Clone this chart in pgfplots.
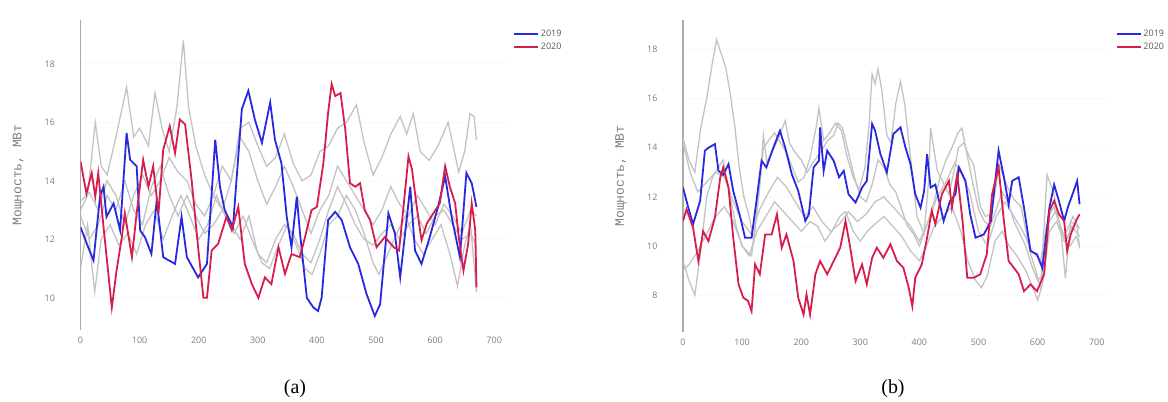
\documentclass[border=0pt]{standalone}
\usepackage{fontspec}
\setmainfont{Open Sans}
\newfontfamily\monofont{Liberation Mono}
\newfontfamily\capfont{Liberation Serif}
\usepackage{pgfplots}
\pgfplotsset{compat=1.18}
\definecolor{cblue}{RGB}{40,40,225}
\definecolor{cred}{RGB}{215,30,75}
\definecolor{cgray}{RGB}{195,195,195}
\definecolor{caxis}{RGB}{170,170,170}
\definecolor{ctick}{RGB}{125,125,125}
\pgfplotsset{
 mystyle/.style={
  scale only axis, width=425.5bp,
  xmin=0, xmax=720,
  axis x line*=bottom, axis y line*=left,
  x axis line style={draw=none},
  y axis line style={draw=caxis, line width=1.5bp, -},
  major tick length=0pt,
  xtick={0,100,...,700},
  tick label style={font=\fontsize{9}{10}\selectfont, text=ctick},
  /pgf/number format/assume math mode=true,
  xticklabel style={yshift=-3bp},
  yticklabel style={xshift=-22bp},
  ymajorgrids, grid style={gray!5, line width=0.8bp},
  ylabel={Мощность, МВт},
  every axis y label/.style={at={(rel axis cs:0,0.5)}, xshift=-62bp, rotate=90, anchor=center, font=\monofont\fontsize{13}{15}\selectfont, text=ctick},
  legend style={draw=none, fill=none, at={(rel axis cs:1,1)}, anchor=north west, xshift=4bp, yshift=-6bp, font=\fontsize{9}{11}\selectfont, text=black!65, row sep=1bp},
  legend image code/.code={\draw[##1, line width=1.8bp] (0bp,0bp) -- (24bp,0bp);},
  legend cell align=left,
  gl/.style={cgray, line width=1.3bp, forget plot},
  bl/.style={cblue, line width=1.8bp},
  rl/.style={cred, line width=1.8bp},
 }
}
\begin{document}
\begin{tikzpicture}
\path[use as bounding box] (0,0) rectangle (1168bp,-402bp);
% ---------------- panel (a) ----------------
\begin{axis}[mystyle, at={(80.5bp,-330bp)}, anchor=south west, height=310bp,
  ymin=8.9, ymax=19.5, ytick={10,12,...,18}]
\addplot[gl] coordinates {(0,13.0)(12,13.5)(25,16.0)(35,14.5)(45,14.2)(60,15.5)(78,17.2)(90,15.5)(100,15.8)(115,15.2)(126,17.0)(138,15.8)(150,15.0)(163,16.5)(174,18.8)(183,16.5)(195,15.2)(210,14.2)(225,13.5)(240,13.0)(255,14.0)(270,15.8)(285,16.0)(300,15.2)(315,14.5)(330,14.8)(345,15.6)(360,14.6)(375,14.0)(390,14.2)(405,15.0)(420,15.2)(435,15.8)(450,16.0)(467,16.6)(480,15.3)(495,14.2)(510,14.8)(525,15.6)(541,16.2)(552,15.6)(563,16.3)(575,15.0)(590,14.7)(605,15.2)(622,16.0)(640,14.3)(650,15.0)(659,16.3)(666,16.2)(670,15.4)};
\addplot[gl] coordinates {(0,13.3)(15,13.6)(30,13.0)(45,14.0)(60,13.5)(75,12.5)(90,13.5)(105,14.2)(120,13.5)(135,14.0)(150,14.8)(165,14.3)(180,14.0)(195,13.2)(210,12.8)(225,13.5)(240,14.5)(255,14.0)(270,15.5)(285,15.0)(300,14.0)(315,13.2)(330,13.8)(345,14.5)(360,13.8)(375,13.0)(390,12.2)(405,13.0)(420,13.5)(435,14.5)(450,14.0)(465,13.5)(480,13.0)(495,12.5)(510,13.0)(525,13.8)(540,13.2)(555,12.8)(570,13.5)(585,13.0)(600,12.5)(615,13.2)(630,12.8)(645,12.2)(660,13.0)(670,12.8)};
\addplot[gl] coordinates {(0,11.0)(12,12.5)(24,10.2)(35,12.0)(50,12.5)(65,11.8)(80,12.2)(95,11.5)(110,12.5)(125,13.0)(140,12.0)(155,12.8)(170,13.5)(185,12.8)(200,12.0)(215,12.5)(230,13.5)(245,12.8)(260,12.2)(275,12.8)(290,12.0)(307,11.2)(320,11.0)(335,11.8)(350,12.5)(365,11.8)(380,11.0)(392,10.8)(405,11.5)(420,12.5)(435,12.8)(450,13.5)(465,13.0)(480,12.2)(495,11.2)(505,10.8)(520,11.5)(535,12.2)(550,12.8)(565,12.0)(580,11.5)(595,12.0)(610,12.5)(625,11.5)(638,10.4)(650,11.8)(660,12.5)(670,10.2)};
\addplot[gl] coordinates {(0,12.8)(15,12.0)(30,12.5)(45,13.5)(60,13.0)(75,14.0)(90,13.0)(105,12.5)(120,13.8)(135,14.5)(150,13.5)(165,12.8)(180,13.5)(195,12.8)(210,12.2)(225,12.5)(240,13.0)(255,12.5)(270,12.0)(285,12.8)(300,11.5)(315,11.2)(330,12.0)(345,12.5)(360,12.2)(375,11.5)(390,11.2)(405,12.0)(420,13.0)(435,13.8)(450,13.2)(465,12.5)(480,12.0)(495,11.8)(510,12.2)(525,12.5)(540,12.0)(555,12.5)(570,12.8)(585,12.2)(600,12.8)(615,13.0)(630,12.5)(645,12.0)(660,12.2)(670,11.8)};
\addplot[bl] coordinates {(0,12.42)(13,11.73)(22,11.28)(33,13.46)(39,13.8)(44,12.77)(56,13.23)(67,12.31)(78,15.64)(84,14.72)(95,14.5)(101,12.3)(109,12.08)(120,11.5)(129,13.34)(140,11.39)(160,11.16)(171,12.77)(180,11.39)(199,10.7)(214,11.16)(228,15.41)(236,13.8)(244,13.0)(258,12.42)(273,16.45)(284,17.08)(295,16.1)(307,15.3)(321,16.68)(329,15.41)(340,14.6)(349,12.77)(357,11.73)(366,13.46)(371,12.3)(383,10.0)(394,9.67)(402,9.55)(408,10.0)(419,12.66)(431,12.94)(442,12.66)(456,11.73)(470,11.16)(484,10.13)(498,9.38)(507,9.78)(521,12.89)(532,12.2)(541,10.7)(558,13.8)(566,11.62)(577,11.16)(591,12.08)(605,13.11)(617,14.15)(628,12.77)(642,11.39)(653,14.27)(662,13.92)(670,13.11)};
\addlegendentry{2019}
\addplot[rl] coordinates {(0,14.67)(10,13.57)(19,14.27)(25,13.46)(30,14.27)(39,12.42)(53,9.67)(61,10.93)(70,12.08)(75,12.89)(87,11.39)(95,12.89)(106,14.72)(115,13.8)(123,14.5)(132,12.89)(140,15.07)(151,15.87)(160,14.95)(168,16.1)(177,15.93)(188,14.03)(199,11.73)(208,10.0)(214,10.0)(222,11.62)(233,11.85)(247,12.77)(256,12.31)(267,13.11)(278,11.16)(290,10.47)(301,10.0)(312,10.7)(323,10.47)(335,11.73)(346,10.82)(357,11.5)(371,11.39)(380,12.08)(391,13.0)(400,13.11)(411,14.61)(419,16.33)(425,17.31)(431,16.9)(440,17.0)(448,15.76)(456,13.92)(465,13.8)(473,13.92)(481,13.0)(490,12.66)(501,11.73)(515,12.08)(530,11.73)(539,11.62)(546,13.0)(555,14.84)(561,14.38)(569,13.11)(577,11.97)(586,12.54)(597,12.89)(608,13.23)(617,14.5)(625,13.8)(634,13.23)(640,12.08)(648,10.93)(656,11.85)(662,13.23)(668,12.31)(670,10.36)};
\addlegendentry{2020}
\end{axis}
% ---------------- panel (b) ----------------
\begin{axis}[mystyle, at={(683bp,-332bp)}, anchor=south west, height=312bp,
  ymin=6.5, ymax=19.2, ytick={8,10,...,18}]
\addplot[gl] coordinates {(0,14.4)(10,13.5)(20,13.0)(30,14.8)(40,16.0)(50,17.5)(57,18.4)(65,17.8)(72,17.3)(80,16.2)(88,14.8)(95,13.2)(103,12.0)(112,11.2)(120,10.2)(128,12.0)(136,14.0)(145,14.3)(155,14.6)(165,14.2)(175,13.8)(185,13.2)(195,12.6)(205,12.8)(215,13.6)(225,14.8)(230,15.6)(238,14.3)(248,14.6)(258,15.0)(268,14.7)(278,13.6)(288,12.8)(298,12.3)(308,13.2)(315,15.0)(320,17.0)(325,16.6)(330,17.2)(336,16.4)(345,14.5)(352,14.2)(360,15.8)(368,16.7)(375,15.8)(385,13.6)(396,11.2)(408,10.5)(415,12.5)(419,14.8)(430,13.1)(440,12.6)(450,12.1)(460,13.2)(466,14.0)(475,14.2)(485,13.6)(492,13.3)(503,11.6)(512,11.2)(521,11.3)(528,12.2)(535,13.3)(549,12.4)(560,11.9)(572,11.6)(588,9.7)(598,8.9)(605,8.3)(616,12.9)(628,12.1)(640,10.5)(647,8.7)(656,11.0)(667,10.8)(671,9.9)};
\addplot[gl] coordinates {(0,9.4)(10,8.6)(20,8.0)(30,9.8)(40,12.0)(50,12.8)(60,13.2)(68,13.5)(78,12.2)(90,10.8)(100,10.0)(116,9.6)(125,11.5)(131,12.8)(136,14.5)(142,13.4)(150,13.8)(160,14.3)(173,15.1)(180,14.2)(190,13.8)(200,13.5)(210,13.0)(220,13.4)(232,13.8)(245,14.3)(255,14.5)(262,15.0)(270,14.8)(280,13.8)(290,12.8)(300,12.0)(310,11.8)(320,12.5)(330,13.5)(340,13.2)(350,12.5)(360,12.2)(370,11.5)(380,10.8)(390,10.5)(400,10.0)(412,10.8)(425,11.8)(435,12.8)(445,13.5)(455,14.0)(465,14.6)(472,14.8)(480,13.8)(490,12.6)(500,11.5)(510,11.0)(520,10.8)(530,11.5)(540,12.2)(550,11.8)(560,11.0)(570,10.5)(580,10.0)(590,9.2)(600,8.6)(608,8.8)(618,11.2)(628,11.6)(638,10.8)(648,10.2)(658,10.8)(671,10.4)};
\addplot[gl] coordinates {(0,9.0)(12,9.3)(25,9.8)(40,10.5)(55,11.2)(70,11.6)(85,11.0)(100,10.0)(112,9.6)(125,10.6)(140,11.2)(155,11.8)(170,11.4)(185,11.0)(200,10.6)(215,11.0)(228,10.8)(240,10.2)(252,10.6)(265,11.2)(275,11.4)(288,10.6)(300,10.2)(312,10.6)(325,10.9)(340,11.2)(355,10.8)(370,10.4)(385,9.8)(400,9.4)(412,10.0)(425,10.8)(440,11.2)(455,11.6)(470,10.6)(482,9.4)(495,8.6)(505,8.3)(515,8.8)(528,10.2)(540,10.6)(552,10.0)(565,9.6)(580,9.0)(592,8.3)(600,7.8)(608,8.4)(620,10.6)(632,11.0)(645,10.2)(655,10.0)(665,10.4)(671,10.0)};
\addplot[gl] coordinates {(0,14.2)(12,13.0)(25,12.2)(40,12.6)(55,13.0)(70,12.8)(85,11.8)(100,11.0)(115,10.5)(130,11.5)(145,12.2)(160,12.8)(175,12.4)(190,11.8)(205,11.2)(220,11.6)(235,11.0)(250,10.6)(265,10.9)(280,11.4)(295,11.0)(310,11.3)(325,11.8)(340,12.0)(355,11.6)(370,11.2)(385,10.8)(400,10.2)(415,11.0)(430,12.0)(445,12.6)(460,13.4)(470,13.0)(485,12.2)(500,10.6)(515,10.0)(530,11.2)(545,11.8)(560,11.2)(575,10.6)(590,9.8)(605,9.4)(615,10.8)(630,11.4)(645,10.4)(660,11.2)(671,10.7)};
\addplot[bl] coordinates {(0,12.38)(9,11.56)(17,10.89)(29,11.84)(37,13.88)(43,14.0)(54,14.15)(60,13.06)(68,12.9)(77,13.33)(85,12.24)(97,11.16)(105,10.34)(116,10.34)(125,11.97)(133,13.47)(141,13.2)(153,14.01)(164,14.69)(173,14.0)(184,12.93)(195,12.24)(207,11.02)(213,11.3)(221,13.2)(230,13.47)(232,14.83)(238,13.06)(244,13.88)(255,13.47)(264,12.8)(272,13.06)(280,12.11)(292,11.77)(303,12.38)(311,12.65)(320,14.97)(325,14.7)(334,13.75)(345,13.0)(356,14.56)(368,14.83)(376,14.05)(385,13.33)(393,12.11)(402,11.56)(408,12.24)(413,13.74)(419,12.38)(427,12.5)(441,11.02)(452,11.84)(461,12.1)(467,13.2)(478,12.65)(486,11.29)(495,10.34)(509,10.47)(521,11.02)(529,12.79)(534,13.88)(543,12.8)(551,11.7)(557,12.65)(568,12.8)(577,11.56)(588,9.8)(599,9.66)(608,9.11)(620,11.56)(628,12.5)(636,11.84)(645,11.02)(651,11.56)(659,12.1)(667,12.65)(671,11.7)};
\addlegendentry{2019}
\addplot[rl] coordinates {(0,11.02)(6,11.5)(17,10.75)(26,9.39)(34,10.6)(43,10.2)(54,11.16)(63,12.79)(68,13.2)(77,12.38)(85,10.34)(94,8.44)(102,7.9)(110,7.77)(116,7.35)(122,9.25)(130,8.85)(139,10.47)(150,10.47)(159,11.29)(167,9.93)(175,10.47)(187,9.39)(195,7.89)(204,7.21)(209,8.03)(215,7.21)(224,8.85)(232,9.39)(244,8.85)(255,9.39)(266,9.93)(275,11.02)(283,9.93)(292,8.57)(303,9.25)(311,8.44)(320,9.52)(328,9.93)(339,9.52)(351,10.07)(362,9.39)(373,9.11)(382,8.3)(388,7.55)(393,8.71)(404,9.25)(413,10.34)(421,11.43)(427,10.89)(438,12.11)(450,12.65)(455,11.56)(464,12.93)(473,11.02)(481,8.71)(492,8.71)(503,8.85)(514,9.66)(523,12.11)(534,13.2)(543,11.02)(551,9.39)(560,9.11)(568,8.85)(577,8.16)(588,8.44)(599,8.16)(611,8.85)(620,11.43)(628,11.84)(636,11.29)(645,11.02)(650,9.8)(656,10.47)(665,11.02)(671,11.29)};
\addlegendentry{2020}
\end{axis}
\node[font=\capfont\fontsize{20}{24}\selectfont, anchor=base] at (295bp,-393bp) {(a)};
\node[font=\capfont\fontsize{20}{24}\selectfont, anchor=base] at (893bp,-393bp) {(b)};
\end{tikzpicture}
\end{document}
